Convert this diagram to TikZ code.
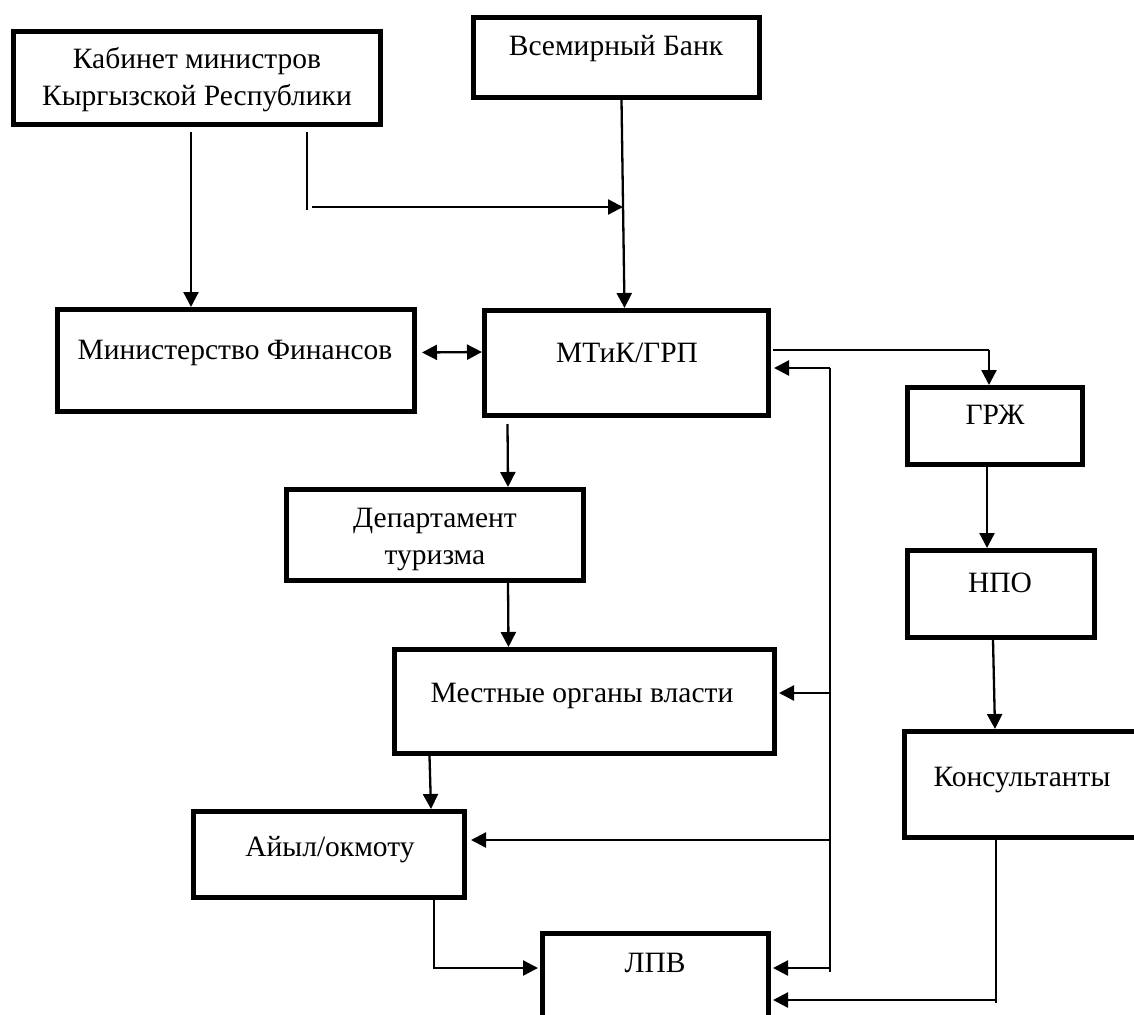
\documentclass[tikz,border=0pt]{standalone}
\usepackage{fontspec}
\setmainfont{Liberation Serif}
\usepackage{tikz}
\usetikzlibrary{positioning, calc, arrows.meta}

\tikzset{
  blk/.style = {draw=black, line width=5pt, rectangle, inner sep=0pt},
  txt/.style = {anchor=base, align=center, inner sep=0pt, font=\fontsize{29.5}{37}\selectfont},
  arr/.style = {draw=black, line width=2.3pt, ->},
  dbl/.style = {draw=black, line width=2.3pt, <->},
  thinline/.style = {draw=black, line width=1.1pt},
  >={Triangle[length=15pt, width=15pt]}
}

\begin{document}
\begin{tikzpicture}[x=1pt, y=-1pt]
%PICTURE SCOPE
\useasboundingbox (0,0) rectangle (1134,1014);
%%BOXES
\node (kab) [blk, minimum width=367pt, minimum height=93pt] at (197,78) {};
\node (wb) [blk, minimum width=286pt, minimum height=80pt] at (616.5,57.5) {};
\node (minfin) [blk, minimum width=357pt, minimum height=102pt] at (236,360.5) {};
\node (mtik) [blk, minimum width=284pt, minimum height=105pt] at (626.5,363) {};
\node (grzh) [blk, minimum width=175pt, minimum height=77pt] at (995,426) {};
\node (npo) [blk, minimum width=187pt, minimum height=87pt] at (1001,594) {};
\node (kons) [blk, minimum width=243pt, minimum height=106pt] at (1026,784.5) {};
\node (dep) [blk, minimum width=297pt, minimum height=91pt] at (435,535) {};
\node (mest) [blk, minimum width=380pt, minimum height=104pt] at (584.5,701.5) {};
\node (ayl) [blk, minimum width=271pt, minimum height=86pt] at (329,854.5) {};
\node (lpv) [blk, minimum width=226pt, minimum height=99pt] at (655.5,982.5) {};
%%TEXTS
\node (kabtxt) [txt] at (197,106) {Кабинет министров\\Кыргызской Республики};
\node (wbtxt) [txt] at (616,56) {Всемирный Банк};
\node (minfintxt) [txt] at (235,359) {Министерство Финансов};
\node (mtiktxt) [txt] at (627,362) {МТиК/ГРП};
\node (grzhtxt) [txt] at (995,424) {ГРЖ};
\node (npotxt) [txt] at (1000,592) {НПО};
\node (konstxt) [txt] at (1022,786) {Консультанты};
\node (deptxt) [txt] at (435,564) {Департамент\\туризма};
\node (mesttxt) [txt] at (582,702) {Местные органы власти};
\node (ayltxt) [txt] at (330,856) {Айыл/окмоту};
\node (lpvtxt) [txt] at (655,972) {ЛПВ};
%%JOINTS
\coordinate (kabout) at ($(kab.south)+(110,5)$);
\coordinate (wbin) at (623,207);
\coordinate (kabjoin) at (kabout |- wbin);
\coordinate (grzhin) at ($(grzh.north)+(-6,-35)$);
\coordinate (fbtop) at (830,368);
\coordinate (fbmest) at (830,693);
\coordinate (fbayl) at (830,840);
\coordinate (fblpv) at (830,968);
\coordinate (fbend) at (830,972);
\coordinate (aylout) at ($(ayl.south)+(105,0)$);
\coordinate (aylturn) at (aylout |- fblpv);
\coordinate (konsout) at ($(kons.south)+(-30,0)$);
\coordinate (konsturn) at ($(konsout)+(0,160)$);
%%CONNECTIONS
\draw [arr] ($(kab.south)+(-6,5)$) -- ($(minfin.north)+(-45,0)$);
\draw [thinline] (kabout) -- ($(kabjoin)+(0,3)$);
\draw [arr] ($(kabjoin)+(5,0)$) -- (wbin);
\draw [arr] ($(wb.south)+(5,0)$) -- ($(mtik.north)+(-2,0)$);
\draw [dbl] ($(minfin.east)+(5,-8)$) -- ($(mtik.west)+(0,-11)$);
%%MTIK TO RIGHT COLUMN
\draw [thinline] ($(mtik.east)+(2,-13)$) -- (grzhin);
\draw [arr] (grzhin) -- ($(grzh.north)+(-6,0)$);
\draw [arr] ($(grzh.south)+(-8,0)$) -- ($(npo.north)+(-14,0)$);
\draw [arr] ($(npo.south)+(-8,0)$) -- ($(kons.north)+(-31,0)$);
%%LEFT COLUMN DOWN
\draw [arr] ($(mtik.south)+(-119,6)$) -- ($(dep.north)+(73,0)$);
\draw [arr] ($(dep.south)+(73,0)$) -- ($(mest.north)+(-76,0)$);
\draw [arr] ($(mest.south)+(-155,0)$) -- ($(ayl.north)+(102,0)$);
%%FEEDBACK LINE
\draw [thinline] (fbtop) -- (fbend);
\draw [arr] (fbtop) -- ($(fbtop -| mtik.east)+(3,0)$);
\draw [arr] (fbmest) -- ($(fbmest -| mest.east)+(2,0)$);
\draw [arr] (fbayl) -- ($(fbayl -| ayl.east)+(4,0)$);
\draw [arr] (fblpv) -- ($(fblpv -| lpv.east)+(2,0)$);
%%TO LPV
\draw [thinline] (aylout) -- ($(aylturn)+(0,1)$);
\draw [arr] (aylturn) -- ($(aylturn -| lpv.west)+(-2,0)$);
\draw [thinline] (konsout) -- ($(konsturn)+(0,3)$);
\draw [arr] (konsturn) -- ($(konsturn -| lpv.east)+(2,0)$);
\end{tikzpicture}
\end{document}
